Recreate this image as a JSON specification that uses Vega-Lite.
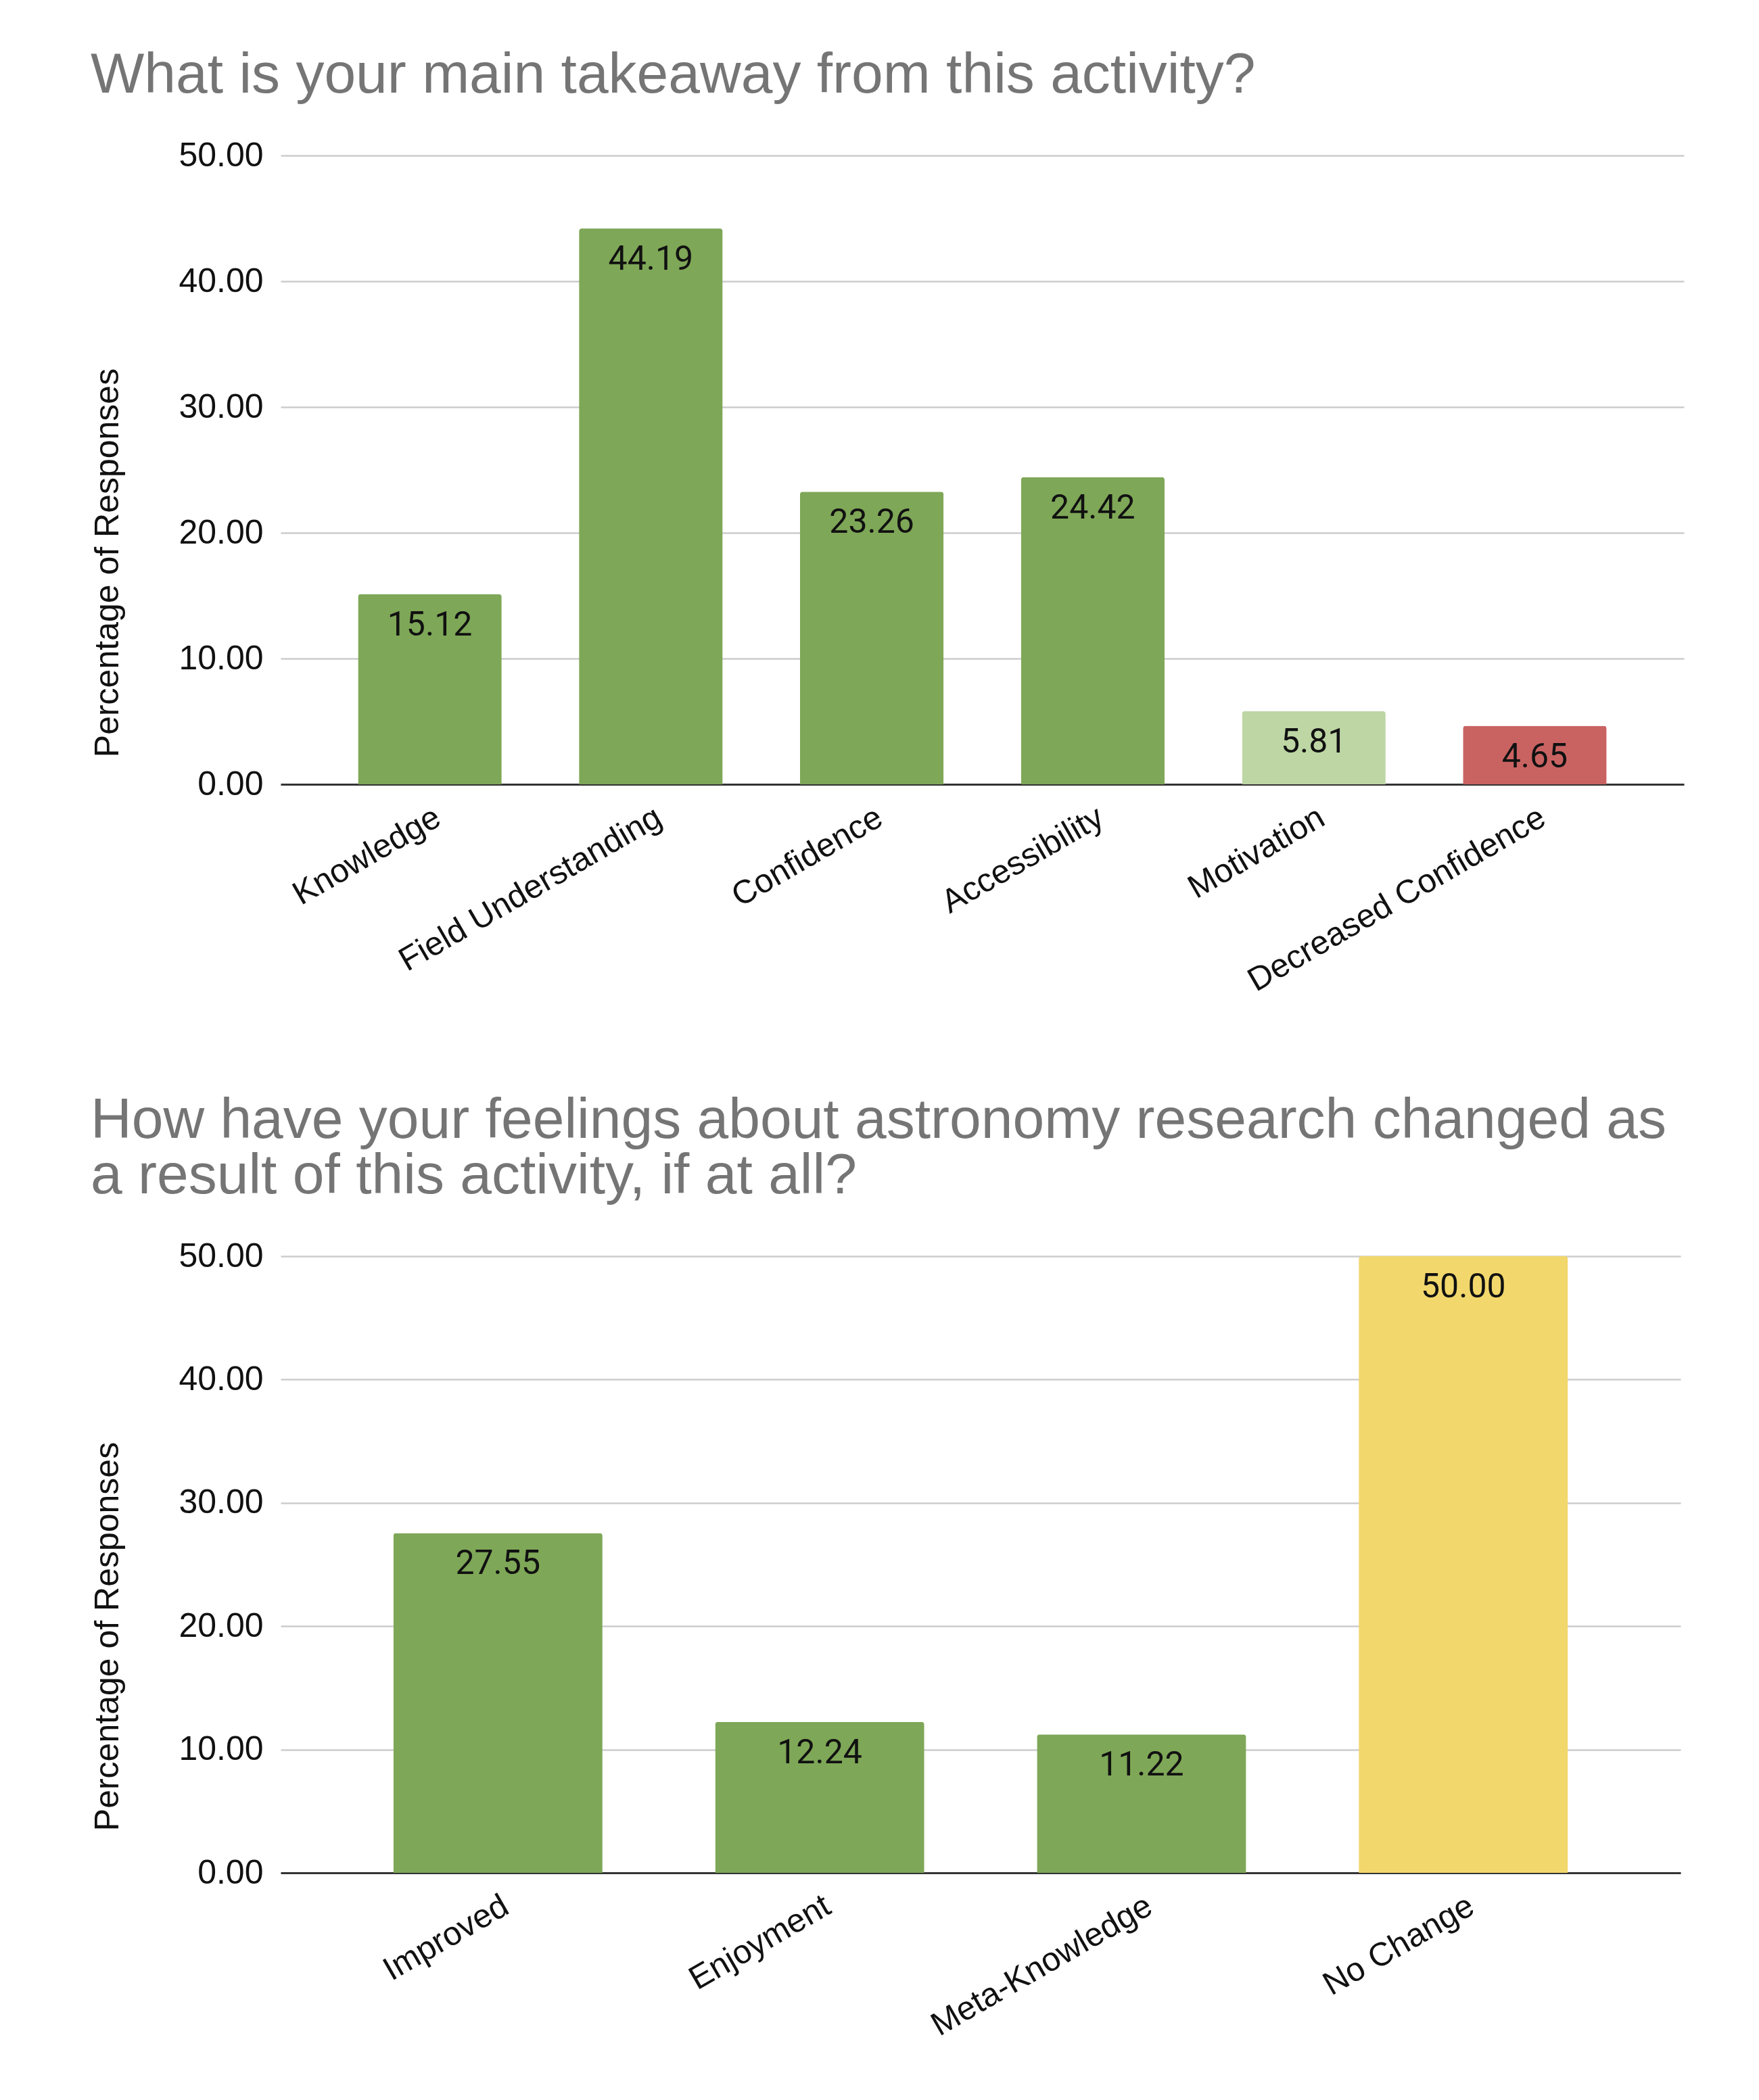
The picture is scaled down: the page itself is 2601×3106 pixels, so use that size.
{
  "$schema": "https://vega.github.io/schema/vega-lite/v6.json",
  "background": "white",
  "padding": {"left": 134, "top": 70, "right": 20, "bottom": 20},
  "spacing": 140,
  "config": {
    "view": {"stroke": null},
    "font": "Liberation Sans",
    "title": {
      "font": "Liberation Sans",
      "fontSize": 84,
      "fontWeight": "normal",
      "color": "#757575",
      "anchor": "start",
      "offset": 50,
      "lineHeight": 82
    },
    "axis": {
      "labelFont": "Liberation Sans",
      "labelFontSize": 50,
      "labelColor": "#111111",
      "titleFont": "Liberation Sans",
      "titleFontSize": 50,
      "titleFontWeight": "normal",
      "titleColor": "#111111",
      "ticks": false,
      "tickSize": 0
    },
    "axisX": {
      "domainColor": "#333333",
      "domainWidth": 3,
      "grid": false,
      "labelAngle": -30,
      "labelFontSize": 49,
      "labelPadding": 24,
      "labelLimit": 1000
    },
    "axisY": {
      "domain": false,
      "gridColor": "#cccccc",
      "gridWidth": 2.5,
      "labelPadding": 26,
      "titleAngle": -90,
      "titleBaseline": "middle",
      "titleAlign": "center",
      "titleX": -256
    },
    "bar": {"cornerRadiusTopLeft": 4, "cornerRadiusTopRight": 4},
    "text": {"font": "Roboto", "fontSize": 50, "color": "#111111", "baseline": "alphabetic", "dy": 61}
  },
  "vconcat": [
    {
      "title": "What is your main takeaway from this activity?",
      "width": 2075,
      "height": 930,
      "data": {
        "values": [
          {"takeaway": "Knowledge", "percent": 15.12, "tone": "positive"},
          {"takeaway": "Field Understanding", "percent": 44.19, "tone": "positive"},
          {"takeaway": "Confidence", "percent": 23.26, "tone": "positive"},
          {"takeaway": "Accessibility", "percent": 24.42, "tone": "positive"},
          {"takeaway": "Motivation", "percent": 5.81, "tone": "mild"},
          {"takeaway": "Decreased Confidence", "percent": 4.65, "tone": "negative"}
        ]
      },
      "encoding": {
        "x": {
          "field": "takeaway",
          "type": "nominal",
          "sort": null,
          "scale": {"paddingInner": 0.35, "paddingOuter": 0.35},
          "axis": {"title": null}
        },
        "y": {
          "field": "percent",
          "type": "quantitative",
          "scale": {"domain": [0, 50]},
          "axis": {"title": "Percentage of Responses", "titleY": 602, "format": ".2f", "values": [0, 10, 20, 30, 40, 50]}
        }
      },
      "layer": [
        {
          "mark": "bar",
          "encoding": {
            "color": {
              "field": "tone",
              "type": "nominal",
              "scale": {
                "domain": ["positive", "mild", "negative", "neutral"],
                "range": ["#7ea757", "#bdd6a4", "#c96362", "#f2d76c"]
              },
              "legend": null
            }
          }
        },
        {
          "mark": "text",
          "encoding": {"text": {"field": "percent", "type": "quantitative", "format": ".2f"}}
        }
      ]
    },
    {
      "title": {"text": ["How have your feelings about astronomy research changed as", "a result of this activity, if at all?"]},
      "width": 2070,
      "height": 912,
      "data": {
        "values": [
          {"feeling": "Improved", "percent": 27.55, "tone": "positive"},
          {"feeling": "Enjoyment", "percent": 12.24, "tone": "positive"},
          {"feeling": "Meta-Knowledge", "percent": 11.22, "tone": "positive"},
          {"feeling": "No Change", "percent": 50.0, "tone": "neutral"}
        ]
      },
      "encoding": {
        "x": {
          "field": "feeling",
          "type": "nominal",
          "sort": null,
          "scale": {"paddingInner": 0.35, "paddingOuter": 0.35},
          "axis": {"title": null}
        },
        "y": {
          "field": "percent",
          "type": "quantitative",
          "scale": {"domain": [0, 50]},
          "axis": {"title": "Percentage of Responses", "titleY": 562, "format": ".2f", "values": [0, 10, 20, 30, 40, 50]}
        }
      },
      "layer": [
        {
          "mark": "bar",
          "encoding": {
            "color": {
              "field": "tone",
              "type": "nominal",
              "scale": {
                "domain": ["positive", "mild", "negative", "neutral"],
                "range": ["#7ea757", "#bdd6a4", "#c96362", "#f2d76c"]
              },
              "legend": null
            }
          }
        },
        {
          "mark": "text",
          "encoding": {"text": {"field": "percent", "type": "quantitative", "format": ".2f"}}
        }
      ]
    }
  ]
}
